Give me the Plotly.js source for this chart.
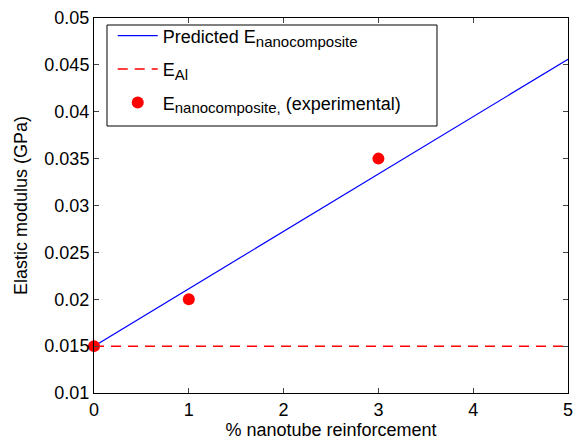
<!DOCTYPE html>
<html><head><meta charset="utf-8">
<script src="https://cdn.plot.ly/plotly-3.0.1.min.js"></script>
<style>body{margin:0;background:#fff}#c{width:573px;height:444px}</style>
</head><body><div id="c"></div>
<script>
const predX = [0, 5];
const predY = [0.015, 0.0456];
const alX = [0, 5];
const alY = [0.015, 0.015];
const expX = [0, 1, 3];
const expY = [0.015, 0.020, 0.035];
const yTickVals = [0.01, 0.015, 0.02, 0.025, 0.03, 0.035, 0.04, 0.045, 0.05];
const yTickText = ["0.01", "0.015", "0.02", "0.025", "0.03", "0.035", "0.04", "0.045", "0.05"];
const xTickVals = [0, 1, 2, 3, 4, 5];

const sub = s => '<sub><span style="font-size:15px">' + s + '</span></sub>';
const traces = [
  {x: predX, y: predY, mode: 'lines', name: 'Predicted E' + sub('nanocomposite'),
   legendgroup: 'a', line: {color: '#0000ff', width: 1.2}},
  {x: alX, y: alY, mode: 'lines', name: 'E' + sub('Al'),
   legendgroup: 'b', line: {color: '#ff0000', width: 1.5, dash: '10px,7px'}},
  {x: expX, y: expY, mode: 'markers', name: 'E' + sub('nanocomposite,') + ' (experimental)',
   legendgroup: 'c', marker: {color: '#ff0000', size: 12}, cliponaxis: false}
];
const font = {family: 'Liberation Sans, Arial, sans-serif', size: 18, color: '#000'};
const layout = {
  width: 573, height: 444,
  margin: {l: 94, r: 5, t: 18, b: 51},
  paper_bgcolor: '#fff', plot_bgcolor: '#fff',
  font: font,
  showlegend: true,
  legend: {x: 0.0395, y: 1.0013, xanchor: 'left', yanchor: 'top',
    bgcolor: 'rgba(0,0,0,0)', borderwidth: 0, itemwidth: 40,
    font: {family: font.family, size: 18, color: '#000'}, tracegroupgap: 7},
  shapes: [{type: 'rect', xref: 'paper', yref: 'paper',
    x0: 0.0274, x1: 0.7236, y0: 0.712, y1: 0.9813,
    line: {color: '#000', width: 1}, fillcolor: '#fff', layer: 'above'}],
  xaxis: {range: [0, 5], tickvals: xTickVals, ticks: 'inside', ticklen: 5,
    ticklabeloverflow: 'allow',
    showline: true, linecolor: '#000', linewidth: 1, mirror: 'ticks',
    showgrid: false, zeroline: false, tickfont: font,
    title: {text: '% nanotube reinforcement', font: font, standoff: 3}},
  yaxis: {range: [0.01, 0.05], tickvals: yTickVals, ticktext: yTickText,
    ticks: 'inside', ticklen: 5,
    showline: true, linecolor: '#000', linewidth: 1, mirror: 'ticks',
    showgrid: false, zeroline: false, tickfont: font,
    title: {text: 'Elastic modulus (GPa)', font: font, standoff: 12}}
};
Plotly.newPlot('c', traces, layout, {displayModeBar: false, staticPlot: true});
</script></body></html>
